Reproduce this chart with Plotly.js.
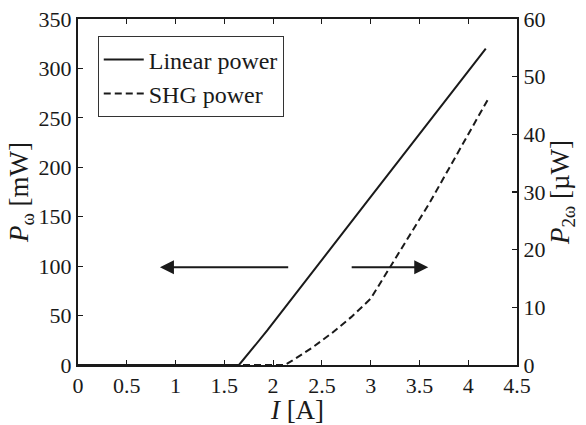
<!DOCTYPE html>
<html>
<head>
<meta charset="utf-8">
<script src="https://cdn.plot.ly/plotly-3.0.1.min.js"></script>
<style>
  html, body { margin: 0; padding: 0; background: #fff; }
  #chart { width: 586px; height: 425px; }
</style>
</head>
<body>
<div id="chart"></div>
<script>
// Fundamental (linear) output power vs. drive current, left axis [mW]
const currentLinear = [0, 0.5, 1.0, 1.5, 1.65, 1.8, 1.94, 3.0, 4.18];
const powerLinear   = [0, 0, 0, 0, 0, 18, 35, 170, 320];

// Second-harmonic output power vs. drive current, right axis [µW]
const currentSHG = [0, 0.5, 1.0, 1.5, 2.0, 2.12, 2.2, 2.4, 2.6, 2.8, 3.0, 3.2, 3.4, 3.6, 3.8, 4.0, 4.2];
const powerSHG   = [0, 0, 0, 0, 0, 0, 0.8, 3.0, 5.5, 8.3, 11.5, 17, 22.5, 28, 34, 40, 46];

const seriesNames = ['Linear power', 'SHG power'];

// Arrows pointing each curve toward its axis: [tail x, head x] at a given left-axis height
const arrowLeft  = { tail: 2.17, head: 0.84, y: 99 };
const arrowRight = { tail: 2.79, head: 3.59, y: 99 };

const serif = 'Liberation Serif, Times New Roman, serif';

const traces = [
  {
    x: currentLinear, y: powerLinear, name: seriesNames[0],
    type: 'scatter', mode: 'lines',
    line: { color: '#1a1a1a', width: 2 },
    xaxis: 'x', yaxis: 'y'
  },
  {
    x: currentSHG, y: powerSHG, name: seriesNames[1],
    type: 'scatter', mode: 'lines',
    line: { color: '#1a1a1a', width: 2, dash: '7px,4px' },
    xaxis: 'x', yaxis: 'y2'
  }
];

function arrow(a) {
  return {
    x: a.head, y: a.y, ax: a.tail, ay: a.y,
    xref: 'x', yref: 'y', axref: 'x', ayref: 'y',
    showarrow: true, arrowhead: 2, arrowsize: 1.4, arrowwidth: 2,
    arrowcolor: '#1a1a1a', text: ''
  };
}

const layout = {
  width: 586, height: 425,
  margin: { l: 78, r: 69, t: 19, b: 60 },
  paper_bgcolor: '#fff', plot_bgcolor: '#fff',
  font: { family: serif, size: 22, color: '#1a1a1a' },
  showlegend: true,
  legend: {
    x: 0.045, y: 0.95, xanchor: 'left', yanchor: 'top',
    bgcolor: '#fff', bordercolor: '#333', borderwidth: 1,
    font: { family: serif, size: 24, color: '#1a1a1a' },
    itemwidth: 40, tracegroupgap: 0
  },
  xaxis: {
    range: [0, 4.5], dtick: 0.5, tick0: 0,
    ticks: 'inside', ticklen: 5, tickwidth: 1.2, tickcolor: '#1a1a1a',
    showline: true, linewidth: 2, linecolor: '#1a1a1a', mirror: 'ticks',
    showgrid: false, zeroline: false,
    title: { text: '<i>I</i> [A]', font: { family: serif, size: 27 }, standoff: 0 }
  },
  yaxis: {
    range: [0, 350], dtick: 50, tick0: 0,
    ticks: 'inside', ticklen: 5, tickwidth: 1.2, tickcolor: '#1a1a1a',
    showline: true, linewidth: 2, linecolor: '#1a1a1a',
    showgrid: false, zeroline: false,
    title: { text: '<i>P</i><sub>ω</sub> [mW]', font: { family: serif, size: 27 }, standoff: 2 }
  },
  yaxis2: {
    overlaying: 'y', side: 'right',
    range: [0, 60], dtick: 10, tick0: 0,
    ticks: 'inside', ticklen: 5, tickwidth: 1.2, tickcolor: '#1a1a1a',
    showline: true, linewidth: 2, linecolor: '#1a1a1a',
    showgrid: false, zeroline: false,
    title: { text: '<i>P</i><sub>2ω</sub> [µW]', font: { family: serif, size: 27 }, standoff: 2 }
  },
  annotations: [arrow(arrowLeft), arrow(arrowRight)]
};

Plotly.newPlot('chart', traces, layout, { displayModeBar: false, staticPlot: true });
</script>
</body>
</html>
